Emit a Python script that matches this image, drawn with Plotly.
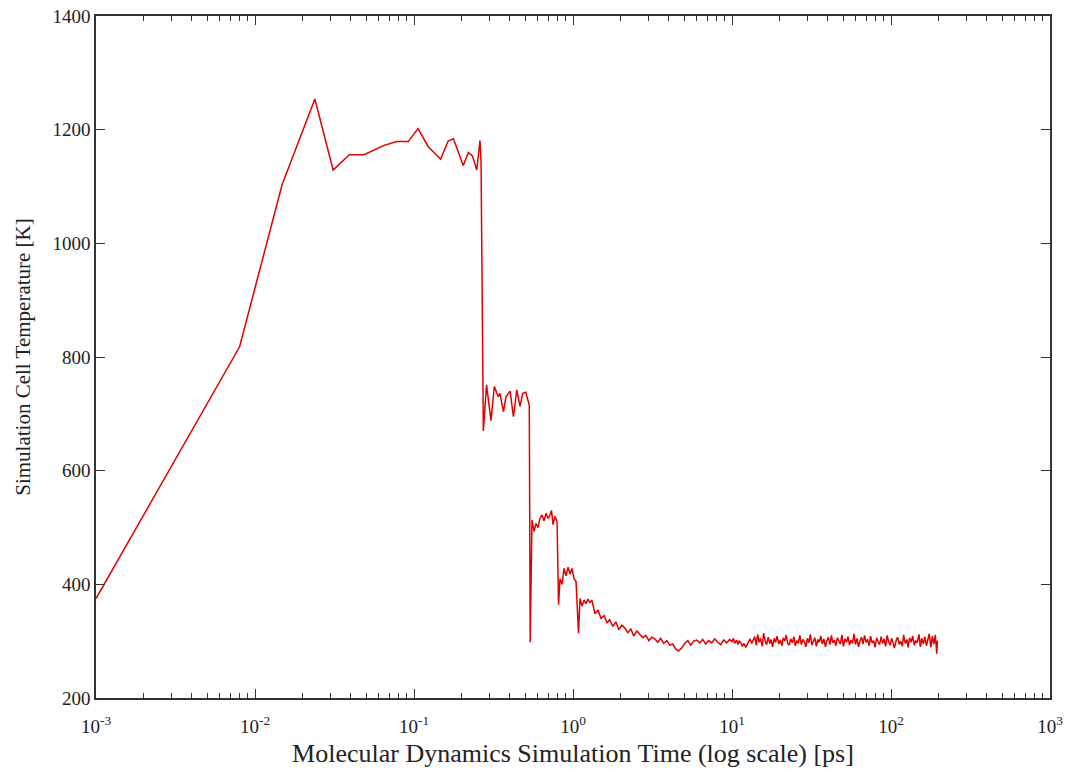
import plotly.graph_objects as go

# ---- data ----
time_ramp = [0.001, 0.008, 0.0148, 0.0238, 0.031, 0.0392, 0.0485, 0.0642, 0.0778, 0.092,
             0.106, 0.123, 0.147, 0.164, 0.177, 0.204, 0.22, 0.233, 0.248, 0.260, 0.264]
temp_ramp = [375, 818, 1103, 1254, 1129, 1156, 1156, 1172, 1179, 1179,
             1202, 1170, 1148, 1180, 1184, 1137, 1160, 1154, 1129, 1181, 1144]

time_step2 = [0.273, 0.286, 0.305, 0.320, 0.339, 0.347, 0.365, 0.379, 0.402, 0.422,
              0.443, 0.464, 0.483, 0.505, 0.520, 0.531]
temp_step2 = [670, 751, 688, 748, 730, 736, 704, 730, 740, 695,
              742, 713, 736, 738, 726, 715]

time_step3 = [0.538, 0.552, 0.569, 0.585, 0.602, 0.620, 0.638, 0.657, 0.677, 0.697,
              0.717, 0.732, 0.749, 0.771, 0.794]
temp_step3 = [298, 513, 493, 507, 500, 516, 522, 512, 525, 516,
              522, 530, 505, 520, 510]

time_step4 = [0.811, 0.829, 0.853, 0.878, 0.904, 0.931, 0.958, 0.986, 1.015, 1.045]
temp_step4 = [364, 410, 400, 428, 415, 430, 418, 428, 410, 405]

time_step5 = [1.083, 1.107, 1.140, 1.173, 1.208, 1.243, 1.280, 1.316, 1.375, 1.436,
              1.500, 1.567, 1.637]
temp_step5 = [314, 375, 362, 372, 366, 374, 368, 372, 348, 355,
              340, 345, 332]

time_relax = [1.7, 1.78, 1.86, 1.94, 2.03, 2.12, 2.21, 2.31, 2.41, 2.52,
              2.63, 2.75, 2.87, 3.0, 3.13, 3.27, 3.41, 3.56, 3.72, 3.89,
              4.06, 4.24, 4.43, 4.62, 4.83, 5.04, 5.27, 5.5, 5.74, 6.0,
              6.27, 6.54, 6.83, 7.14, 7.45, 7.78, 8.13, 8.49, 8.87, 9.26,
              9.67]
temp_relax = [338, 326, 334, 320, 328, 323, 315, 322, 309, 318,
              312, 306, 310, 301, 307, 304, 298, 305, 296, 301,
              293, 295, 286, 283, 288, 296, 301, 293, 300, 302,
              297, 303, 295, 301, 297, 304, 298, 294, 302, 297,
              303]

time_tail = [10.0, 10.2, 10.4, 10.7, 10.9, 11.1, 11.4, 11.6, 11.9, 12.2,
             12.4, 12.7, 13.0, 13.3, 13.6, 13.9, 14.2, 14.5, 14.8, 15.1,
             15.5, 15.8, 16.2, 16.5, 16.9, 17.3, 17.6, 18.0, 18.4, 18.8,
             19.2, 19.7, 20.1, 20.6, 21.0, 21.5, 21.9, 22.4, 22.9, 23.4,
             24.0, 24.5, 25.0, 25.6, 26.1, 26.7, 27.3, 27.9, 28.5, 29.1,
             29.8, 30.4, 31.1, 31.8, 32.5, 33.2, 33.9, 34.7, 35.4, 36.2,
             37.0, 37.8, 38.7, 39.5, 40.4, 41.3, 42.2, 43.1, 44.1, 45.0,
             46.0, 47.0, 48.1, 49.1, 50.2, 51.3, 52.5, 53.6, 54.8, 56.0,
             57.3, 58.5, 59.8, 61.1, 62.5, 63.9, 65.3, 66.7, 68.2, 69.7,
             71.2, 72.8, 74.4, 76.0, 77.7, 79.4, 81.2, 83.0, 84.8, 86.7,
             88.6, 90.5, 92.5, 94.6, 96.6, 98.8, 101, 103, 105, 108,
             110, 113, 115, 118, 120, 123, 126, 128, 131, 134,
             137, 140, 143, 146, 150, 153, 156, 160, 163, 167,
             171, 174, 178, 182, 186, 190, 194, 196]
temp_tail = [299, 305, 296, 302, 294, 300, 297, 291, 296, 289,
             293, 299, 304, 296, 301, 308, 293, 312, 298, 305,
             291, 314, 299, 294, 307, 296, 303, 290, 305, 298,
             309, 295, 302, 292, 306, 300, 311, 296, 293, 304,
             297, 308, 292, 301, 296, 310, 294, 303, 299, 290,
             305, 297, 312, 293, 300, 306, 291, 303, 298, 309,
             295, 304, 290, 301, 307, 294, 310, 297, 302, 292,
             306, 299, 295, 311, 291, 304, 298, 308, 293, 302,
             296, 313, 294, 305, 290, 301, 307, 295, 310, 298,
             303, 292, 309, 297, 301, 289, 306, 299, 294, 308,
             296, 304, 291, 310, 299, 293, 305, 297, 288, 302,
             307, 294, 300, 291, 311, 296, 303, 289, 306, 298,
             309, 293, 301, 297, 312, 290, 305, 295, 308, 292,
             304, 313, 289, 309, 295, 311, 278, 301]

x_tick_vals = [1e-3, 1e-2, 1e-1, 1e0, 1e1, 1e2, 1e3]
x_tick_text = ["10<sup>-3</sup>", "10<sup>-2</sup>", "10<sup>-1</sup>", "10<sup>0</sup>",
               "10<sup>1</sup>", "10<sup>2</sup>", "10<sup>3</sup>"]
y_tick_vals = [200, 400, 600, 800, 1000, 1200, 1400]

times = time_ramp + time_step2 + time_step3 + time_step4 + time_step5 + time_relax + time_tail
temps = temp_ramp + temp_step2 + temp_step3 + temp_step4 + temp_step5 + temp_relax + temp_tail

FONT = "Liberation Serif, Times New Roman, serif"

fig = go.Figure()
fig.add_trace(go.Scatter(x=times, y=temps, mode="lines",
                         line=dict(color="#e00000", width=1.5),
                         showlegend=False))

# page has an 8px body margin; figure sized so the plot box lands at 96..1050 x 16..698
fig.update_layout(
    width=1063, height=765,
    margin=dict(l=88, r=21, t=8, b=75, autoexpand=False),
    paper_bgcolor="white", plot_bgcolor="white",
    font=dict(family=FONT, color="#222222", size=19),
)
fig.update_xaxes(
    type="log", range=[-3, 3], automargin=False,
    tickvals=x_tick_vals, ticktext=x_tick_text,
    ticks="inside", ticklen=9, tickwidth=1.2, tickcolor="#333",
    minor=dict(ticks="inside", ticklen=5, tickwidth=1, tickcolor="#333", dtick="D1", showgrid=False),
    showline=True, linecolor="#333", linewidth=1.5, mirror="ticks",
    showgrid=False, zeroline=False,
    ticklabelstandoff=10, ticklabeloverflow="allow",
    tickfont=dict(size=19, family=FONT),
    title=dict(text="Molecular Dynamics Simulation Time (log scale) [ps]",
               font=dict(size=26, family=FONT), standoff=8),
)
fig.update_yaxes(
    range=[200, 1400], tickvals=y_tick_vals, automargin=False,
    ticks="inside", ticklen=9, tickwidth=1.2, tickcolor="#333",
    showline=True, linecolor="#333", linewidth=1.5, mirror="ticks",
    showgrid=False, zeroline=False,
    ticklabeloverflow="allow",
    tickfont=dict(size=19, family=FONT),
    title=dict(text="Simulation Cell Temperature [K]",
               font=dict(size=21, family=FONT), standoff=16),
)

fig.write_html("out.html")
